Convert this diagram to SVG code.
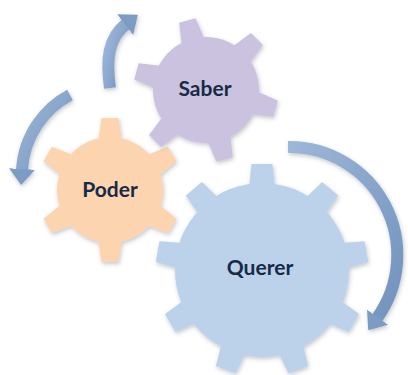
<svg xmlns="http://www.w3.org/2000/svg" xmlns:xlink="http://www.w3.org/1999/xlink" width="408" height="375" viewBox="0 0 408 375">
<defs>
<style>
.lbl{font-family:Lato,"Liberation Sans",sans-serif;font-weight:bold;font-size:21px;fill:#172a47;text-anchor:middle}
.arrow{fill:none;stroke:url(#agrad);stroke-width:12;stroke-linecap:butt}
</style>
<filter id="soft" x="-20%" y="-20%" width="140%" height="140%">
<feGaussianBlur in="SourceAlpha" stdDeviation="2.2"/>
<feOffset dx="1" dy="1.5" result="b"/>
<feFlood flood-color="#5a6070" flood-opacity="0.35"/>
<feComposite in2="b" operator="in" result="s"/>
<feMerge><feMergeNode in="s"/><feMergeNode in="SourceGraphic"/></feMerge>
</filter>
<linearGradient id="agrad" x1="0" y1="0" x2="1" y2="1">
<stop offset="0" stop-color="#9db7d8"/>
<stop offset="1" stop-color="#7293bd"/>
</linearGradient>
<radialGradient id="gS" cx="0.5" cy="0.5" r="0.5"><stop offset="0.6" stop-color="#cfc6e3"/><stop offset="1" stop-color="#c3b9dc"/></radialGradient>
<radialGradient id="gP" cx="0.5" cy="0.5" r="0.5"><stop offset="0.6" stop-color="#fdd7b2"/><stop offset="1" stop-color="#f8cca3"/></radialGradient>
<radialGradient id="gQ" cx="0.5" cy="0.5" r="0.5"><stop offset="0.6" stop-color="#bed4ec"/><stop offset="1" stop-color="#b2cae6"/></radialGradient>
<path id="toothS" d="M -12 -48 L -8.5 -72 L 8.5 -72 L 12 -48 Z"/>
<path id="toothL" d="M -13 -82 L -10.5 -106 L 10.5 -106 L 13 -82 Z"/>
<marker id="head" viewBox="0 0 16 26" refX="1" refY="13" markerWidth="16" markerHeight="26" markerUnits="userSpaceOnUse" orient="auto">
<path d="M0 0 L16 13 L0 26 Z" fill="#7d9cc4"/>
</marker>
</defs>
<rect width="408" height="375" fill="#ffffff"/>

<g id="node-poder">
<g filter="url(#soft)" fill="#fcd5b0">
<g transform="translate(110 190)">
<circle r="53"/>
<use xlink:href="#toothS" transform="rotate(0)"/>
<use xlink:href="#toothS" transform="rotate(60)"/>
<use xlink:href="#toothS" transform="rotate(120)"/>
<use xlink:href="#toothS" transform="rotate(180)"/>
<use xlink:href="#toothS" transform="rotate(240)"/>
<use xlink:href="#toothS" transform="rotate(300)"/>
</g>
</g>
<text class="lbl" x="110" y="197">Poder</text>
</g>

<g id="node-saber">
<g filter="url(#soft)" fill="#cbc2e0">
<g transform="translate(206 90)">
<circle r="53"/>
<use xlink:href="#toothS" transform="rotate(-15)"/>
<use xlink:href="#toothS" transform="rotate(45)"/>
<use xlink:href="#toothS" transform="rotate(105)"/>
<use xlink:href="#toothS" transform="rotate(165)"/>
<use xlink:href="#toothS" transform="rotate(225)"/>
<use xlink:href="#toothS" transform="rotate(285)"/>
</g>
</g>
<text class="lbl" x="205" y="96">Saber</text>
</g>

<g id="node-querer">
<g filter="url(#soft)" fill="#bcd2ea">
<g transform="translate(262 270)">
<circle r="87"/>
<use xlink:href="#toothL" transform="rotate(0)"/>
<use xlink:href="#toothL" transform="rotate(40)"/>
<use xlink:href="#toothL" transform="rotate(80)"/>
<use xlink:href="#toothL" transform="rotate(120)"/>
<use xlink:href="#toothL" transform="rotate(160)"/>
<use xlink:href="#toothL" transform="rotate(200)"/>
<use xlink:href="#toothL" transform="rotate(240)"/>
<use xlink:href="#toothL" transform="rotate(280)"/>
<use xlink:href="#toothL" transform="rotate(320)"/>
</g>
</g>
<text class="lbl" x="260" y="275">Querer</text>
</g>

<g id="connectors" filter="url(#soft)">
<path class="arrow" d="M 110 88 C 106 60, 108 38, 126 24" marker-end="url(#head)"/>
<path class="arrow" d="M 70 95 C 45 108, 24 135, 22 170" marker-end="url(#head)"/>
<path class="arrow" d="M 288 147 A 108 108 0 0 1 377 318" marker-end="url(#head)"/>
</g>
</svg>
